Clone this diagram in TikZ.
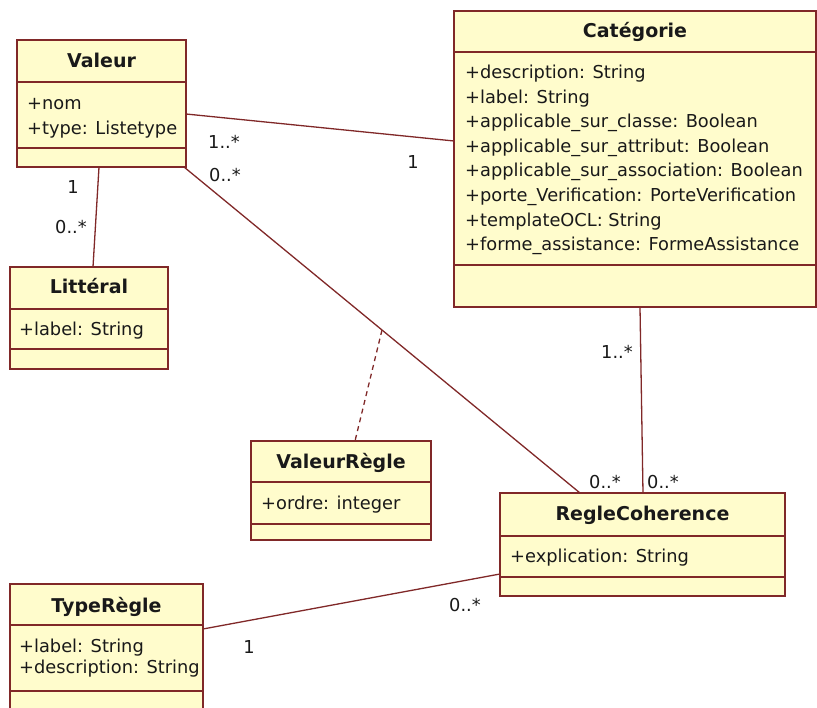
\documentclass[tikz,border=0pt]{standalone}
\usepackage{fontspec}
\setmainfont{DejaVu Sans}
\usetikzlibrary{calc}

\definecolor{umlfill}{RGB}{255,252,204}
\definecolor{umlline}{RGB}{128,40,40}
\definecolor{umltext}{RGB}{25,25,25}

\tikzset{
  classbox/.style={draw=umlline, fill=umlfill, line width=1.6pt, inner sep=0pt, outer sep=0pt, anchor=north west},
  divider/.style={draw=umlline, line width=1.6pt},
  classtitle/.style={font=\fontsize{19}{21}\selectfont\bfseries, text=umltext, anchor=base, inner sep=0pt},
  attr/.style={font=\fontsize{17.8}{20}\selectfont, text=umltext, anchor=base west, inner sep=0pt},
  mult/.style={font=\fontsize{17.8}{20}\selectfont, text=umltext, anchor=base, inner sep=0pt},
  assoc/.style={draw=umlline, line width=1.3pt},
  assoclink/.style={draw=umlline, line width=1.3pt, dash pattern=on 5pt off 4pt},
}

\begin{document}
\begin{tikzpicture}[x=1pt, y=-1pt]
\useasboundingbox (0,0) rectangle (817,708);
\clip (0,0) rectangle (817,708);

% ---- Valeur ----
\node[classbox, minimum width=169pt, minimum height=127pt] (val) at (17,40) {};
\draw[divider] (17,82) -- (186,82);
\draw[divider] (17,148) -- (186,148);
\node[classtitle] (valT) at (101.5,68) {Valeur};
\node[attr] (valA1) at (27,109.5) {+nom};
\node[attr] (valA2) at (27,134.5) {+type: Listetype};

% ---- Catégorie ----
\node[classbox, minimum width=362pt, minimum height=296pt] (cat) at (454,11) {};
\draw[divider] (454,52) -- (816,52);
\draw[divider] (454,265) -- (816,265);
\node[classtitle] (catT) at (635,37.5) {Catégorie};
\node[attr] (catA1) at (465,78.5) {+description: String};
\node[attr] (catA2) at (465,103.1) {+label: String};
\node[attr] (catA3) at (465,127.7) {+applicable\_sur\_classe: Boolean};
\node[attr] (catA4) at (465,152.3) {+applicable\_sur\_attribut: Boolean};
\node[attr] (catA5) at (465,176.9) {+applicable\_sur\_association: Boolean};
\node[attr] (catA6) at (465,201.5) {+porte\_Verification: PorteVerification};
\node[attr] (catA7) at (465,226.1) {+templateOCL: String};
\node[attr] (catA8) at (465,250.7) {+forme\_assistance: FormeAssistance};

% ---- Littéral ----
\node[classbox, minimum width=158pt, minimum height=102pt] (lit) at (10,267) {};
\draw[divider] (10,309) -- (168,309);
\draw[divider] (10,349) -- (168,349);
\node[classtitle] (litT) at (89,294) {Littéral};
\node[attr] (litA1) at (19,335.5) {+label: String};

% ---- ValeurRègle ----
\node[classbox, minimum width=180pt, minimum height=99pt] (vr) at (251,441) {};
\draw[divider] (251,482) -- (431,482);
\draw[divider] (251,524) -- (431,524);
\node[classtitle] (vrT) at (341,469) {ValeurRègle};
\node[attr] (vrA1) at (261,509.5) {+ordre: integer};

% ---- RegleCoherence ----
\node[classbox, minimum width=285pt, minimum height=103pt] (rc) at (500,493) {};
\draw[divider] (500,536) -- (785,536);
\draw[divider] (500,577) -- (785,577);
\node[classtitle] (rcT) at (642.5,520) {RegleCoherence};
\node[attr] (rcA1) at (510,562.5) {+explication: String};

% ---- TypeRègle ----
\node[classbox, minimum width=193pt, minimum height=140pt] (tr) at (10,584) {};
\draw[divider] (10,625) -- (203,625);
\draw[divider] (10,691) -- (203,691);
\node[classtitle] (trT) at (106.5,612) {TypeRègle};
\node[attr] (trA1) at (19,652.5) {+label: String};
\node[attr] (trA2) at (19,673.5) {+description: String};

% ---- associations ----
\draw[assoc] ($(val.north east)+(0,74)$) -- ($(cat.north west)+(0,130)$);
\draw[assoc] ($(val.south west)+(82,0)$) -- ($(lit.north west)+(83,0)$);
\draw[assoc] ($(val.south east)+(-2,0)$) -- coordinate[pos=0.5] (vrmid) ($(rc.north west)+(80,0)$);
\draw[assoclink] (vrmid) -- ($(vr.north west)+(104,0)$);
\draw[assoc] ($(cat.south west)+(186,0)$) -- ($(rc.north west)+(143,0)$);
\draw[assoc] ($(tr.north east)+(0,45)$) -- ($(rc.south west)+(0,-22)$);

% ---- multiplicities ----
\node[mult] (m1) at (224,148.5) {1..*};
\node[mult] (m2) at (225,181.5) {0..*};
\node[mult] (m3) at (413,168.5) {1};
\node[mult] (m4) at (73,193.5) {1};
\node[mult] (m5) at (71,233.5) {0..*};
\node[mult] (m6) at (617,358.5) {1..*};
\node[mult] (m7) at (605,488.5) {0..*};
\node[mult] (m8) at (663,488.5) {0..*};
\node[mult] (m9) at (465,611.5) {0..*};
\node[mult] (m10) at (249,653.5) {1};
\end{tikzpicture}
\end{document}
